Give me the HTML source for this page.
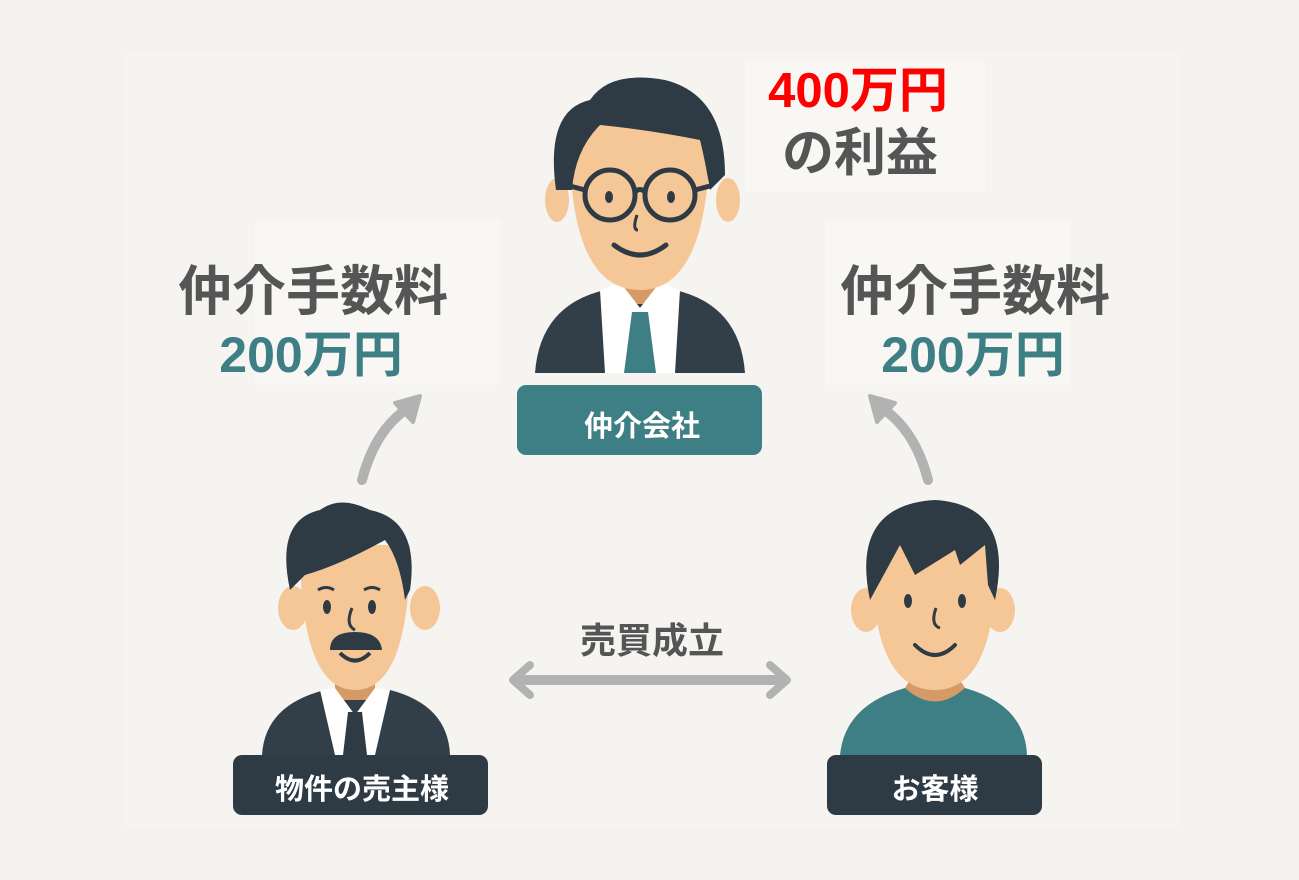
<!DOCTYPE html>
<html><head><meta charset="utf-8"><style>
html,body{margin:0;padding:0;background:#f4f2ef;}
svg{display:block}
text{font-family:"Liberation Sans","Noto Sans CJK JP",sans-serif;font-weight:bold}
</style></head><body>
<svg width="1299" height="880" viewBox="0 0 1299 880" xmlns="http://www.w3.org/2000/svg">
<rect x="0" y="0" width="1299" height="880" fill="#f4f2ef"/>
<rect x="122" y="50" width="1060" height="780" fill="#f6f4f1"/>
<rect x="255" y="220" width="245" height="165" fill="#f8f7f4"/>
<rect x="825" y="220" width="245" height="165" fill="#f8f7f4"/>
<rect x="745" y="62" width="240" height="130" fill="#f8f7f4"/>

<!-- top texts -->
<text x="858" y="107" font-size="49" fill="#ff0000" text-anchor="middle">400万円</text>
<text x="860" y="171" font-size="52" fill="#555" text-anchor="middle">の利益</text>
<text x="313" y="310" font-size="54" fill="#555" text-anchor="middle">仲介手数料</text>
<text x="311" y="372" font-size="50" fill="#3d7f85" text-anchor="middle">200万円</text>
<text x="975" y="310" font-size="54" fill="#555" text-anchor="middle">仲介手数料</text>
<text x="973" y="372" font-size="50" fill="#3d7f85" text-anchor="middle">200万円</text>

<!-- curved arrows -->
<path d="M362 480 Q375 430 408 408" stroke="#b3b2b3" stroke-width="10" fill="none" stroke-linecap="round"/>
<path d="M420 396 L395 403 L413 422 Z" fill="#b3b2b3" stroke="#b3b2b3" stroke-width="4" stroke-linejoin="round"/>
<path d="M928 480 Q915 430 882 408" stroke="#b3b2b3" stroke-width="10" fill="none" stroke-linecap="round"/>
<path d="M870 396 L895 403 L877 422 Z" fill="#b3b2b3" stroke="#b3b2b3" stroke-width="4" stroke-linejoin="round"/>

<!-- Top person -->
<path d="M535 373 Q540 305 605 290 L675 290 Q740 305 745 373 Z" fill="#323f48"/>
<rect x="620" y="282" width="40" height="22" fill="#d59a66"/>
<path d="M600 290 L620 282 L640 308 L660 282 L680 290 L675 373 L605 373 Z" fill="#fff"/>
<path d="M632 312 L648 312 L656 373 L624 373 Z" fill="#3d7f85"/>
<ellipse cx="557" cy="200" rx="12" ry="22" fill="#f5c796"/>
<ellipse cx="728" cy="200" rx="12" ry="22" fill="#f5c796"/>
<path d="M570 120 Q565 290 640 290 Q712 290 710 120 Z" fill="#f5c796"/>
<path d="M556 190 Q545 110 590 100 Q610 70 665 80 Q725 95 725 175 L710 190 Q705 160 700 140 Q650 130 600 125 Q575 150 572 190 Z" fill="#2e3b45"/>
<circle cx="610" cy="195" r="25" fill="none" stroke="#2e3b45" stroke-width="5"/>
<circle cx="670" cy="195" r="25" fill="none" stroke="#2e3b45" stroke-width="5"/>
<path d="M635 192 Q640 187 645 192 M585 190 L570 186 M695 190 L710 186" stroke="#2e3b45" stroke-width="5" fill="none"/>
<ellipse cx="609" cy="197" rx="4" ry="6" fill="#2e3b45"/>
<ellipse cx="671" cy="197" rx="4" ry="6" fill="#2e3b45"/>
<path d="M637 215 Q632 230 638 230" stroke="#2e3b45" stroke-width="3" fill="none"/>
<path d="M614 245 Q640 265 666 245" stroke="#2e3b45" stroke-width="5" fill="none" stroke-linecap="round"/>
<rect x="517" y="385" width="245" height="70" rx="9" fill="#3d7f85"/>
<text x="642" y="436" font-size="29" fill="#fff" text-anchor="middle">仲介会社</text>

<!-- Seller -->
<path d="M262 755 Q265 705 325 690 L390 690 Q448 705 450 755 Z" fill="#323f48"/>
<rect x="335" y="675" width="40" height="25" fill="#d59a66"/>
<path d="M320 690 L335 688 L355 715 L375 688 L390 690 L375 755 L335 755 Z" fill="#fff"/>
<path d="M348 712 L362 712 L367 755 L343 755 Z" fill="#2e3b45"/>
<ellipse cx="293" cy="608" rx="15" ry="22" fill="#f5c796"/>
<ellipse cx="425" cy="608" rx="15" ry="22" fill="#f5c796"/>
<path d="M300 545 Q300 690 355 690 Q410 690 410 545 Z" fill="#f5c796"/>
<path d="M290 590 Q275 520 320 510 Q340 495 370 510 Q420 520 410 590 L405 600 Q400 560 385 540 Q340 565 305 575 Z" fill="#2e3b45"/>
<ellipse cx="327" cy="607" rx="4" ry="7" fill="#2e3b45"/>
<ellipse cx="372" cy="607" rx="4" ry="7" fill="#2e3b45"/>
<path d="M318 590 Q326 585 334 590 M364 590 Q372 585 380 590" stroke="#2e3b45" stroke-width="3" fill="none"/>
<path d="M352 608 Q345 625 355 630" stroke="#2e3b45" stroke-width="3" fill="none"/>
<path d="M330 650 Q330 632 355 632 Q380 632 382 650 Z" fill="#2e3b45"/>
<path d="M340 653 Q355 668 370 653" stroke="#2e3b45" stroke-width="4" fill="none"/>
<rect x="233" y="755" width="255" height="60" rx="9" fill="#2e3b45"/>
<text x="362" y="799" font-size="29" fill="#fff" text-anchor="middle">物件の売主様</text>

<!-- middle -->
<text x="652" y="653" font-size="36" fill="#555" text-anchor="middle" font-weight="normal">売買成立</text>
<line x1="518" y1="680" x2="782" y2="680" stroke="#b3b2b3" stroke-width="10"/>
<path d="M530 665 L513 680 L530 695" stroke="#b3b2b3" stroke-width="8" fill="none" stroke-linecap="round" stroke-linejoin="round"/>
<path d="M770 665 L787 680 L770 695" stroke="#b3b2b3" stroke-width="8" fill="none" stroke-linecap="round" stroke-linejoin="round"/>

<!-- Customer -->
<path d="M840 755 Q845 705 905 688 L965 688 Q1025 705 1027 755 Z" fill="#3d7f85"/>
<path d="M905 688 Q935 715 965 688 L960 680 L910 680 Z" fill="#d59a66"/>
<ellipse cx="866" cy="610" rx="15" ry="22" fill="#f5c796"/>
<ellipse cx="1000" cy="610" rx="15" ry="22" fill="#f5c796"/>
<path d="M872 540 Q868 690 935 690 Q1000 690 996 540 Z" fill="#f5c796"/>
<path d="M870 600 Q850 505 935 500 Q1015 505 995 600 L988 585 L985 545 L960 565 L955 550 L915 575 L900 545 Z" fill="#2e3b45"/>
<ellipse cx="908" cy="601" rx="4" ry="7" fill="#2e3b45"/>
<ellipse cx="962" cy="601" rx="4" ry="7" fill="#2e3b45"/>
<path d="M936 608 Q930 625 940 628" stroke="#2e3b45" stroke-width="3" fill="none"/>
<path d="M915 645 Q935 665 955 645" stroke="#2e3b45" stroke-width="4" fill="none" stroke-linecap="round"/>
<rect x="827" y="755" width="215" height="60" rx="9" fill="#2e3b45"/>
<text x="935" y="799" font-size="29" fill="#fff" text-anchor="middle">お客様</text>
</svg>
</body></html>
